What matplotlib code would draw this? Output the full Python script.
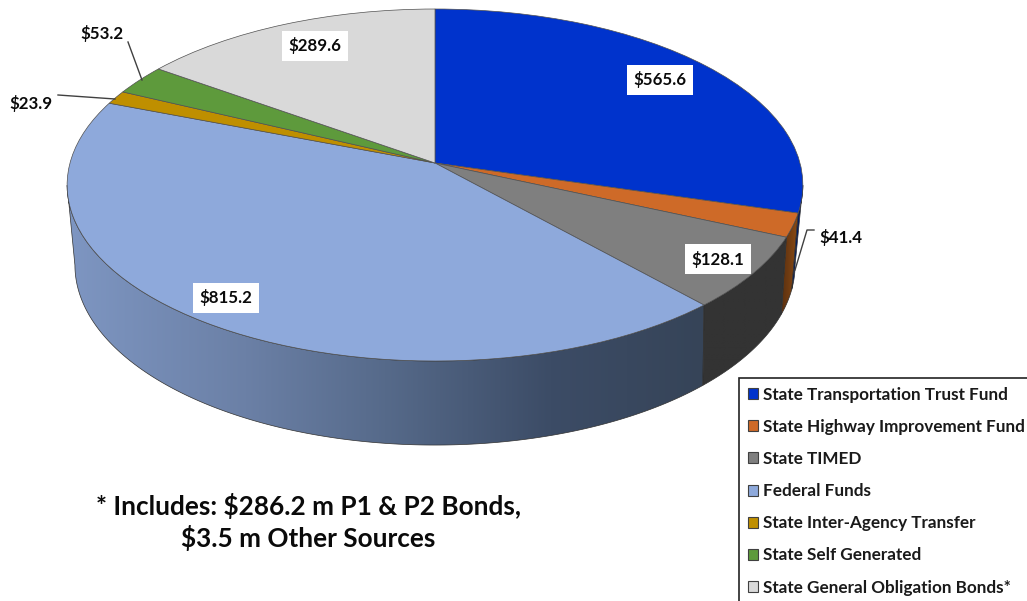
import numpy as np
import matplotlib
matplotlib.use("Agg")
import matplotlib.pyplot as plt
from matplotlib.colors import LinearSegmentedColormap
from matplotlib.patches import Patch, Polygon
from matplotlib.transforms import Transform
from matplotlib.path import Path

categories = ["State Transportation Trust Fund", "State Highway Improvement Fund", "State TIMED",
              "Federal Funds", "State Inter-Agency Transfer", "State Self Generated",
              "State General Obligation Bonds*"]
values = [565.6, 41.4, 128.1, 815.2, 23.9, 53.2, 289.6]
value_labels = ["$565.6", "$41.4", "$128.1", "$815.2", "$23.9", "$53.2", "$289.6"]
colors = ["#0033CC", "#CE6A28", "#7F7F7F", "#8EA9DB", "#BF8F00", "#5E9A3C", "#D9D9D9"]
note = "* Includes: $286.2 m P1 & P2 Bonds,\n$3.5 m Other Sources"

W, H = 1027, 601
CX, CY, C, A, K = 435, 163, 365, 173.25, 0.125
C2, A2, K2, D2 = 356, 176, 0.15, 75


def project(x, y):
    w = 1 + K * y
    return CX + C * x / w, CY - A * y / w


def project_low(x, y):
    w = 1 + K2 * y
    return CX + C2 * x / w, CY + D2 - A2 * y / w


class Perspective(Transform):
    input_dims = output_dims = 2

    def transform_non_affine(self, values):
        v = np.asarray(values, float)
        return np.column_stack(project(v[:, 0], v[:, 1]))

    def transform_path_non_affine(self, path):
        return Path(self.transform_non_affine(path.vertices), path.codes)


plt.rcParams["font.family"] = ["Lato", "DejaVu Sans"]
plt.rcParams["font.weight"] = "bold"
fig = plt.figure(figsize=(W / 100, H / 100), dpi=100, facecolor="white")
ax = fig.add_axes([0, 0, 1, 1])

wedges, _ = ax.pie(values, colors=colors, startangle=90, counterclock=False,
                   wedgeprops=dict(edgecolor="#505050", linewidth=0.5))
persp = Perspective() + ax.transData
for w in wedges:
    w.set_transform(persp)
    w.set_zorder(5)

side = [["#001A66", "#001A66"], ["#5A3010", "#8A4A14"], ["#333333", "#333333"],
        [(0, "#7E96C2"), (0.28, "#6B80A6"), (0.5, "#566A8A"), (0.76, "#3C4C66"), (1, "#364458")],
        ["#7A5C00"] * 2, ["#3C6426"] * 2, ["#888888"] * 2]
edges = np.cumsum([0] + values) / sum(values) * 2 * np.pi

# visible arc of each rim: from its rightmost to its leftmost point
grid = np.linspace(0, 2 * np.pi, 2000)
top_x = project(np.sin(grid), np.cos(grid))[0]
low_x = project_low(np.sin(grid), np.cos(grid))[0]
top_rng = grid[np.argmax(top_x)], grid[np.argmin(top_x)]
low_rng = grid[np.argmax(low_x)], grid[np.argmin(low_x)]


def arc(a, b, rng):
    lo, hi = max(a, rng[0]), min(b, rng[1])
    if hi <= lo:
        return None
    return np.linspace(lo, hi, max(4, int((hi - lo) * 120)))


for i in range(len(values)):
    t1 = arc(edges[i], edges[i + 1], top_rng)
    t2 = arc(edges[i], edges[i + 1], low_rng)
    if t1 is None or t2 is None:
        continue
    X, Y = project(np.sin(t1), np.cos(t1))
    X2, Y2 = project_low(np.sin(t2), np.cos(t2))
    px = np.r_[X, X2[::-1]]
    py = np.r_[Y, Y2[::-1]]
    poly = Polygon(np.column_stack([px, py]), closed=True, transform=ax.transData,
                   fc="none", ec="#303030", lw=0.5, zorder=3)
    ax.add_patch(poly)
    cmap = LinearSegmentedColormap.from_list("s", side[i])
    im = ax.imshow(np.linspace(0, 1, 256)[None, :], cmap=cmap, aspect="auto",
                   extent=(px.min(), px.max(), py.max(), py.min()), zorder=2,
                   interpolation="bilinear")
    im.set_clip_path(poly)

ax.set_xlim(0, W)
ax.set_ylim(H, 0)
ax.set_aspect("auto")
ax.axis("off")

# leader lines
for xs, ys in [([128, 142], [42, 80]), ([58, 115], [95, 99]), ([814, 807, 795], [230, 230, 270])]:
    ax.plot(xs, ys, color="#404040", lw=1.0, zorder=6)

# value labels
label_pos = [(660, 80), (841, 238), (718, 259), (226, 298), (31, 103), (102, 34), (315, 46)]
boxed = [True, False, True, True, False, False, True]
for s, (lx, ly), b in zip(value_labels, label_pos, boxed):
    ax.text(lx, ly, s, ha="center", va="center", fontsize=12.2, color="#0A0A0A", zorder=8,
            bbox=dict(boxstyle="square,pad=0.38", fc="white", ec="none") if b else None)

ax.text(308, 522, note, ha="center", va="center", fontsize=18.8, color="#0A0A0A",
        linespacing=1.27, zorder=8)

handles = [Patch(facecolor=c, edgecolor="#404040", linewidth=0.8) for c in colors]
leg = ax.legend(handles, categories, loc="upper left", bbox_to_anchor=(739, 378),
                bbox_transform=ax.transData, fontsize=12.35, frameon=True, fancybox=False,
                framealpha=1, edgecolor="#222222", handlelength=0.62, handleheight=0.62,
                handletextpad=0.28, labelspacing=0.943, borderpad=0.5, borderaxespad=0)
leg.get_frame().set_linewidth(1.2)
leg.set_zorder(9)
for t in leg.get_texts():
    t.set_color("#1A1A1A")

fig.savefig("out.png", dpi=100, facecolor="white")
